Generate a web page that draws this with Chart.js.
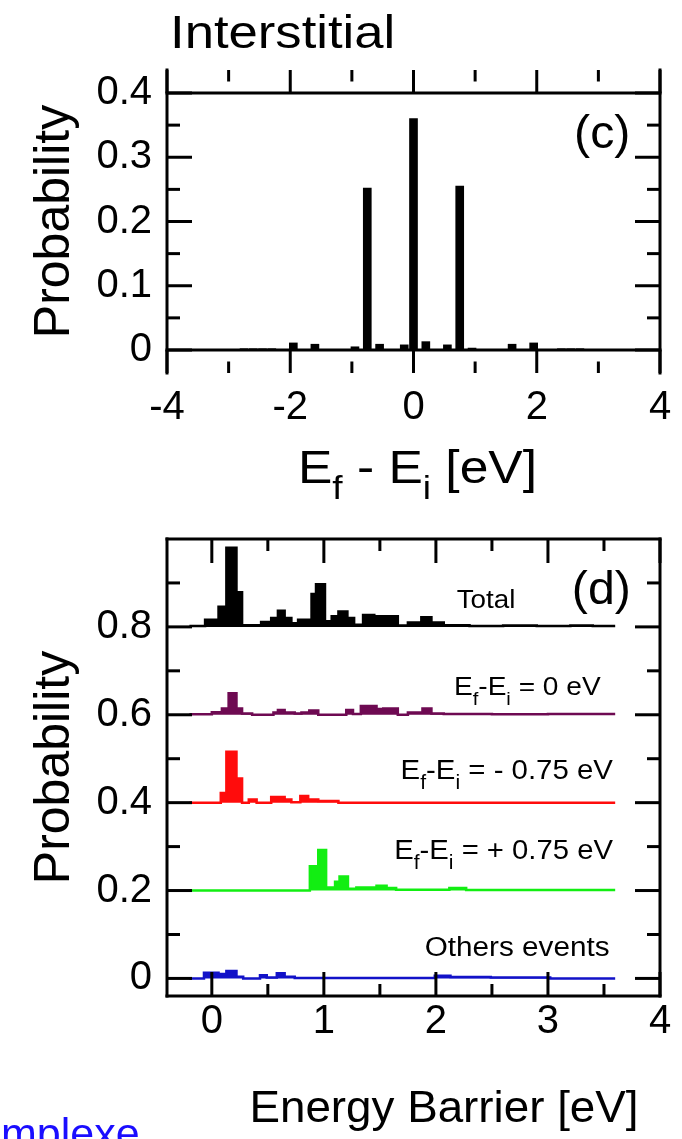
<!DOCTYPE html>
<html lang="en">
<head>
  <meta charset="UTF-8">
  <title>Interstitial - probability histograms</title>
  <script src="https://cdn.jsdelivr.net/npm/chart.js"></script>
  <style>
    body { margin: 0; background: #fff; width: 682px; height: 1139px; overflow: hidden; position: relative;
           font-family: "Liberation Sans", Arial, sans-serif; }
    .panel { position: absolute; left: 0; width: 682px; }
    #panelC { top: 0; height: 500px; }
    #panelD { top: 500px; height: 639px; }
    .cut-link { position: absolute; left: 1px; top: 1109px; color: #1a0dff; font-size: 43px; white-space: nowrap; }
  </style>
</head>
<body>

<div class="panel" id="panelC"><canvas id="chartC"></canvas></div>
<div class="panel" id="panelD"><canvas id="chartD"></canvas></div>
<span class="cut-link">mplexe</span>

<script>
const FONT = '"Liberation Sans", Arial, sans-serif';

// ---- panel (c): Ef - Ei histogram ----
const diffCenters = [-2.75, -2.6, -2.45, -2.3, -1.95, -1.6, -0.95, -0.75, -0.55, -0.15, 0, 0.2, 0.55, 0.75, 0.95, 1.6, 1.95, 2.4, 2.55, 2.7];
const diffProb    = [0.002, 0.002, 0.002, 0.002, 0.011, 0.009, 0.005, 0.252, 0.009, 0.008, 0.36, 0.013, 0.008, 0.255, 0.003, 0.009, 0.011, 0.002, 0.002, 0.002];
const cXTicks = [-4, -2, 0, 2, 4];
const cXMinor = [-3, -1, 1, 3];
const cYTicks = [0, 0.1, 0.2, 0.3, 0.4];
const cYMinor = [0.05, 0.15, 0.25, 0.35];

// ---- panel (d): energy barrier histograms (bin left edges + probability) ----
const totalEdges = [-0.2, -0.06, 0.06, 0.13, 0.22, 0.27, 0.44, 0.53, 0.59, 0.65, 0.71, 0.77, 0.89, 0.93, 1.01, 1.07, 1.13, 1.21, 1.27, 1.35, 1.45, 1.66, 1.75, 1.87, 1.96, 2.07, 2.3, 2.6, 2.9, 3.2, 3.4, 3.6];
const totalProb  = [0.002, 0.016, 0.046, 0.18, 0.079, 0.004, 0.011, 0.02, 0.037, 0.02, 0.008, 0.016, 0.075, 0.097, 0.013, 0.024, 0.035, 0.02, 0.005, 0.027, 0.024, 0.003, 0.01, 0.022, 0.01, 0.004, 0.002, 0.003, 0.002, 0.003, 0.002, 0.002];

const zeroEdges = [-0.2, 0.0, 0.09, 0.15, 0.22, 0.27, 0.36, 0.55, 0.59, 0.65, 0.74, 0.8, 0.87, 0.95, 1.2, 1.26, 1.33, 1.47, 1.53, 1.66, 1.75, 1.88, 1.96, 2.07, 2.5, 3.0, 3.6];
const zeroProb  = [0.001, 0.006, 0.014, 0.049, 0.014, 0.003, 0.0, 0.005, 0.011, 0.005, 0.003, 0.005, 0.01, 0.0, 0.011, 0.002, 0.02, 0.013, 0.014, 0.0, 0.005, 0.014, 0.003, 0.002, 0.001, 0.002, 0.002];

const negEdges = [-0.2, 0.08, 0.13, 0.22, 0.27, 0.33, 0.4, 0.53, 0.65, 0.71, 0.79, 0.86, 0.95, 1.13, 3.6];
const negProb  = [0.0, 0.022, 0.116, 0.055, 0.0, 0.007, 0.0, 0.013, 0.007, 0.001, 0.015, 0.007, 0.004, 0.0, 0.0];

const posEdges = [-0.2, 0.875, 0.95, 1.02, 1.1, 1.14, 1.215, 1.29, 1.47, 1.56, 1.645, 2.12, 2.27, 3.6];
const posProb  = [0.0, 0.055, 0.092, 0.007, 0.02, 0.032, 0.004, 0.007, 0.011, 0.006, 0.002, 0.006, 0.001, 0.001];

const othEdges = [-0.2, -0.07, 0.06, 0.13, 0.22, 0.28, 0.43, 0.49, 0.58, 0.65, 0.74, 1.99, 2.13, 2.49, 3.02, 3.6];
const othProb  = [0.0, 0.013, 0.01, 0.017, 0.004, 0.0, 0.007, 0.002, 0.012, 0.004, 0.001, 0.006, 0.003, 0.002, 0.0, 0.0];

const dOffsets = [0.8, 0.6, 0.4, 0.2, 0];
const dLabels  = ['Total', 'E_f-E_i = 0 eV', 'E_f-E_i = - 0.75 eV', 'E_f-E_i = + 0.75 eV', 'Others events'];
const dColors  = ['#000000', '#6e0a52', '#ff0c0c', '#12ee12', '#1212c8'];
const dXTicks = [0, 1, 2, 3, 4];
const dXMinor = [0.5, 1.5, 2.5, 3.5];
const dYTicks = [0, 0.2, 0.4, 0.6, 0.8];
const dYMinor = [0.1, 0.3, 0.5, 0.7, 0.9];

// text with one-char subscripts marked by "_", sx = horizontal stretch
function drawRich(ctx, str, x, y, size, align, sx = 1) {
  const parts = [];
  for (let i = 0; i < str.length; i++) {
    if (str[i] === '_') { parts.push({ t: str[++i], sub: true }); }
    else if (parts.length && !parts[parts.length - 1].sub) parts[parts.length - 1].t += str[i];
    else parts.push({ t: str[i], sub: false });
  }
  const fontOf = p => (p.sub ? size * 0.72 : size) + 'px ' + FONT;
  let w = 0;
  parts.forEach(p => { ctx.font = fontOf(p); p.w = ctx.measureText(p.t).width * sx; w += p.w; });
  let cx = align === 'right' ? x - w : align === 'center' ? x - w / 2 : x;
  ctx.textAlign = 'left';
  ctx.textBaseline = 'alphabetic';
  parts.forEach(p => {
    ctx.font = fontOf(p);
    ctx.save();
    ctx.translate(cx, p.sub ? y + size * 0.35 : y);
    ctx.scale(sx, 1);
    ctx.fillText(p.t, 0, 0);
    ctx.restore();
    cx += p.w;
  });
}

// frame, inward tick marks and reference lines
const framePlugin = {
  id: 'frame',
  afterDatasetsDraw(chart, args, o) {
    const { ctx, chartArea: a, scales: { x, y } } = chart;
    const seg = (x1, y1, x2, y2) => { ctx.beginPath(); ctx.moveTo(x1, y1); ctx.lineTo(x2, y2); ctx.stroke(); };
    ctx.save();
    ctx.strokeStyle = '#000';
    ctx.lineWidth = 3;
    ctx.lineCap = 'square';
    seg(a.left, a.top, a.left, a.bottom);
    seg(a.right, a.top, a.right, a.bottom);
    if (o.box) { seg(a.left, a.top, a.right, a.top); seg(a.left, a.bottom, a.right, a.bottom); }
    (o.hLines || []).forEach(v => { const py = y.getPixelForValue(v); seg(a.left, py, a.right, py); });
    ctx.lineCap = 'butt';
    const xt = (vals, len) => vals.forEach(v => {
      const px = x.getPixelForValue(v);
      seg(px, a.bottom, px, a.bottom - len);
      seg(px, a.top, px, a.top + len);
    });
    const yt = (vals, len) => vals.forEach(v => {
      const py = y.getPixelForValue(v);
      seg(a.left, py, a.left + len, py);
      seg(a.right, py, a.right - len, py);
    });
    xt(o.xMajor, o.xLen); xt(o.xMinor, o.xLen / 2);
    yt(o.yMajor, 25); yt(o.yMinor, 13);
    ctx.restore();
  }
};

const notesPlugin = {
  id: 'notes',
  afterDraw(chart, args, o) {
    const { ctx, chartArea: a, scales: { x, y } } = chart;
    ctx.save();
    ctx.fillStyle = '#000';
    o.items.forEach(n => drawRich(ctx, n.text, x.getPixelForValue(n.e), y.getPixelForValue(n.p), n.size, n.align, n.sx));
    (o.pixelItems || []).forEach(n => drawRich(ctx, n.text, n.x(a), n.y(a), n.size, n.align, n.sx));
    ctx.restore();
  }
};

Chart.defaults.font.family = FONT;
Chart.defaults.color = '#000';

new Chart(document.getElementById('chartC'), {
  type: 'bar',
  data: {
    datasets: [{
      data: diffCenters.map((e, i) => ({ x: e, y: diffProb[i] })),
      backgroundColor: '#000',
      borderWidth: 0,
      barThickness: 8
    }]
  },
  options: {
    responsive: true,
    maintainAspectRatio: false,
    animation: false,
    layout: { padding: { top: 70, right: 22, left: 0, bottom: 0 } },
    plugins: {
      legend: { display: false },
      tooltip: { enabled: false },
      frame: { box: false, hLines: [0, 0.4], xMajor: cXTicks, xMinor: cXMinor, xLen: 23, yMajor: cYTicks, yMinor: cYMinor },
      notes: {
        items: [{ text: '(c)', e: 3.52, p: 0.315, size: 46, align: 'right', sx: 1.05 }],
        pixelItems: [
          { text: 'Interstitial', x: a => a.left + 3, y: a => a.top - 22, size: 47, align: 'left', sx: 1.12 },
          { text: 'E_f - E_i [eV]', x: a => (a.left + a.right) / 2 + 4, y: a => a.bottom + 110, size: 46, align: 'center', sx: 1.12 }
        ]
      }
    },
    scales: {
      x: {
        type: 'linear', min: -4, max: 4, offset: false,
        afterBuildTicks: s => { s.ticks = cXTicks.map(v => ({ value: v })); },
        afterFit: s => { s.height = 127; },
        grid: { display: false, offset: false },
        border: { display: false },
        ticks: { padding: 3, font: { size: 40 }, color: '#000', maxRotation: 0 }
      },
      y: {
        min: -0.0358, max: 0.4358,
        afterBuildTicks: s => { s.ticks = cYTicks.map(v => ({ value: v })); },
        afterFit: s => { s.width = 167; },
        grid: { display: false, drawTicks: false },
        border: { display: false },
        ticks: { padding: 15, font: { size: 40 }, color: '#000' },
        title: { display: true, text: 'Probability', font: { size: 50, lineHeight: 1 }, padding: { top: 30, bottom: 0 }, color: '#000' }
      }
    }
  },
  plugins: [framePlugin, notesPlugin]
});

new Chart(document.getElementById('chartD'), {
  type: 'line',
  data: {
    datasets: [
      [totalEdges, totalProb], [zeroEdges, zeroProb], [negEdges, negProb], [posEdges, posProb], [othEdges, othProb]
    ].map(([edges, prob], k) => ({
      label: dLabels[k].replace(/_/g, ''),
      data: edges.map((e, i) => ({ x: e, y: dOffsets[k] + prob[i] })),
      borderColor: dColors[k],
      backgroundColor: dColors[k],
      borderWidth: 2.5,
      pointRadius: 0,
      stepped: true,
      fill: { value: dOffsets[k] }
    }))
  },
  options: {
    responsive: true,
    maintainAspectRatio: false,
    animation: false,
    layout: { padding: { top: 25, right: 22, left: 0, bottom: 0 } },
    plugins: {
      legend: { display: false },
      tooltip: { enabled: false },
      frame: { box: true, hLines: [], xMajor: dXTicks, xMinor: dXMinor, xLen: 24, yMajor: dYTicks, yMinor: dYMinor },
      notes: {
        items: [
          { text: '(d)', e: 3.74, p: 0.852, size: 46, align: 'right', sx: 1.05 },
          { text: dLabels[0], e: 2.71, p: 0.843, size: 26, align: 'right', sx: 1.07 },
          { text: dLabels[1], e: 3.47, p: 0.644, size: 26, align: 'right', sx: 1.08 },
          { text: dLabels[2], e: 3.58, p: 0.454, size: 28, align: 'right', sx: 1.05 },
          { text: dLabels[3], e: 3.58, p: 0.272, size: 28, align: 'right', sx: 1.045 },
          { text: dLabels[4], e: 3.55, p: 0.051, size: 27, align: 'right', sx: 1.1 }
        ],
        pixelItems: [
          { text: 'Energy Barrier [eV]', x: a => 444, y: a => a.bottom + 126, size: 44, align: 'center', sx: 1.04 }
        ]
      }
    },
    scales: {
      x: {
        type: 'linear', min: -0.4, max: 4,
        afterBuildTicks: s => { s.ticks = dXTicks.map(v => ({ value: v })); },
        afterFit: s => { s.height = 143; },
        grid: { display: false },
        border: { display: false },
        ticks: { padding: -6, font: { size: 40 }, color: '#000', maxRotation: 0 }
      },
      y: {
        min: -0.04, max: 1.0,
        afterBuildTicks: s => { s.ticks = dYTicks.map(v => ({ value: v })); },
        afterFit: s => { s.width = 167; },
        grid: { display: false, drawTicks: false },
        border: { display: false },
        ticks: { padding: 15, font: { size: 40 }, color: '#000' },
        title: { display: true, text: 'Probability', font: { size: 50, lineHeight: 1 }, padding: { top: 30, bottom: 0 }, color: '#000' }
      }
    }
  },
  plugins: [framePlugin, notesPlugin]
});
</script>
</body>
</html>
